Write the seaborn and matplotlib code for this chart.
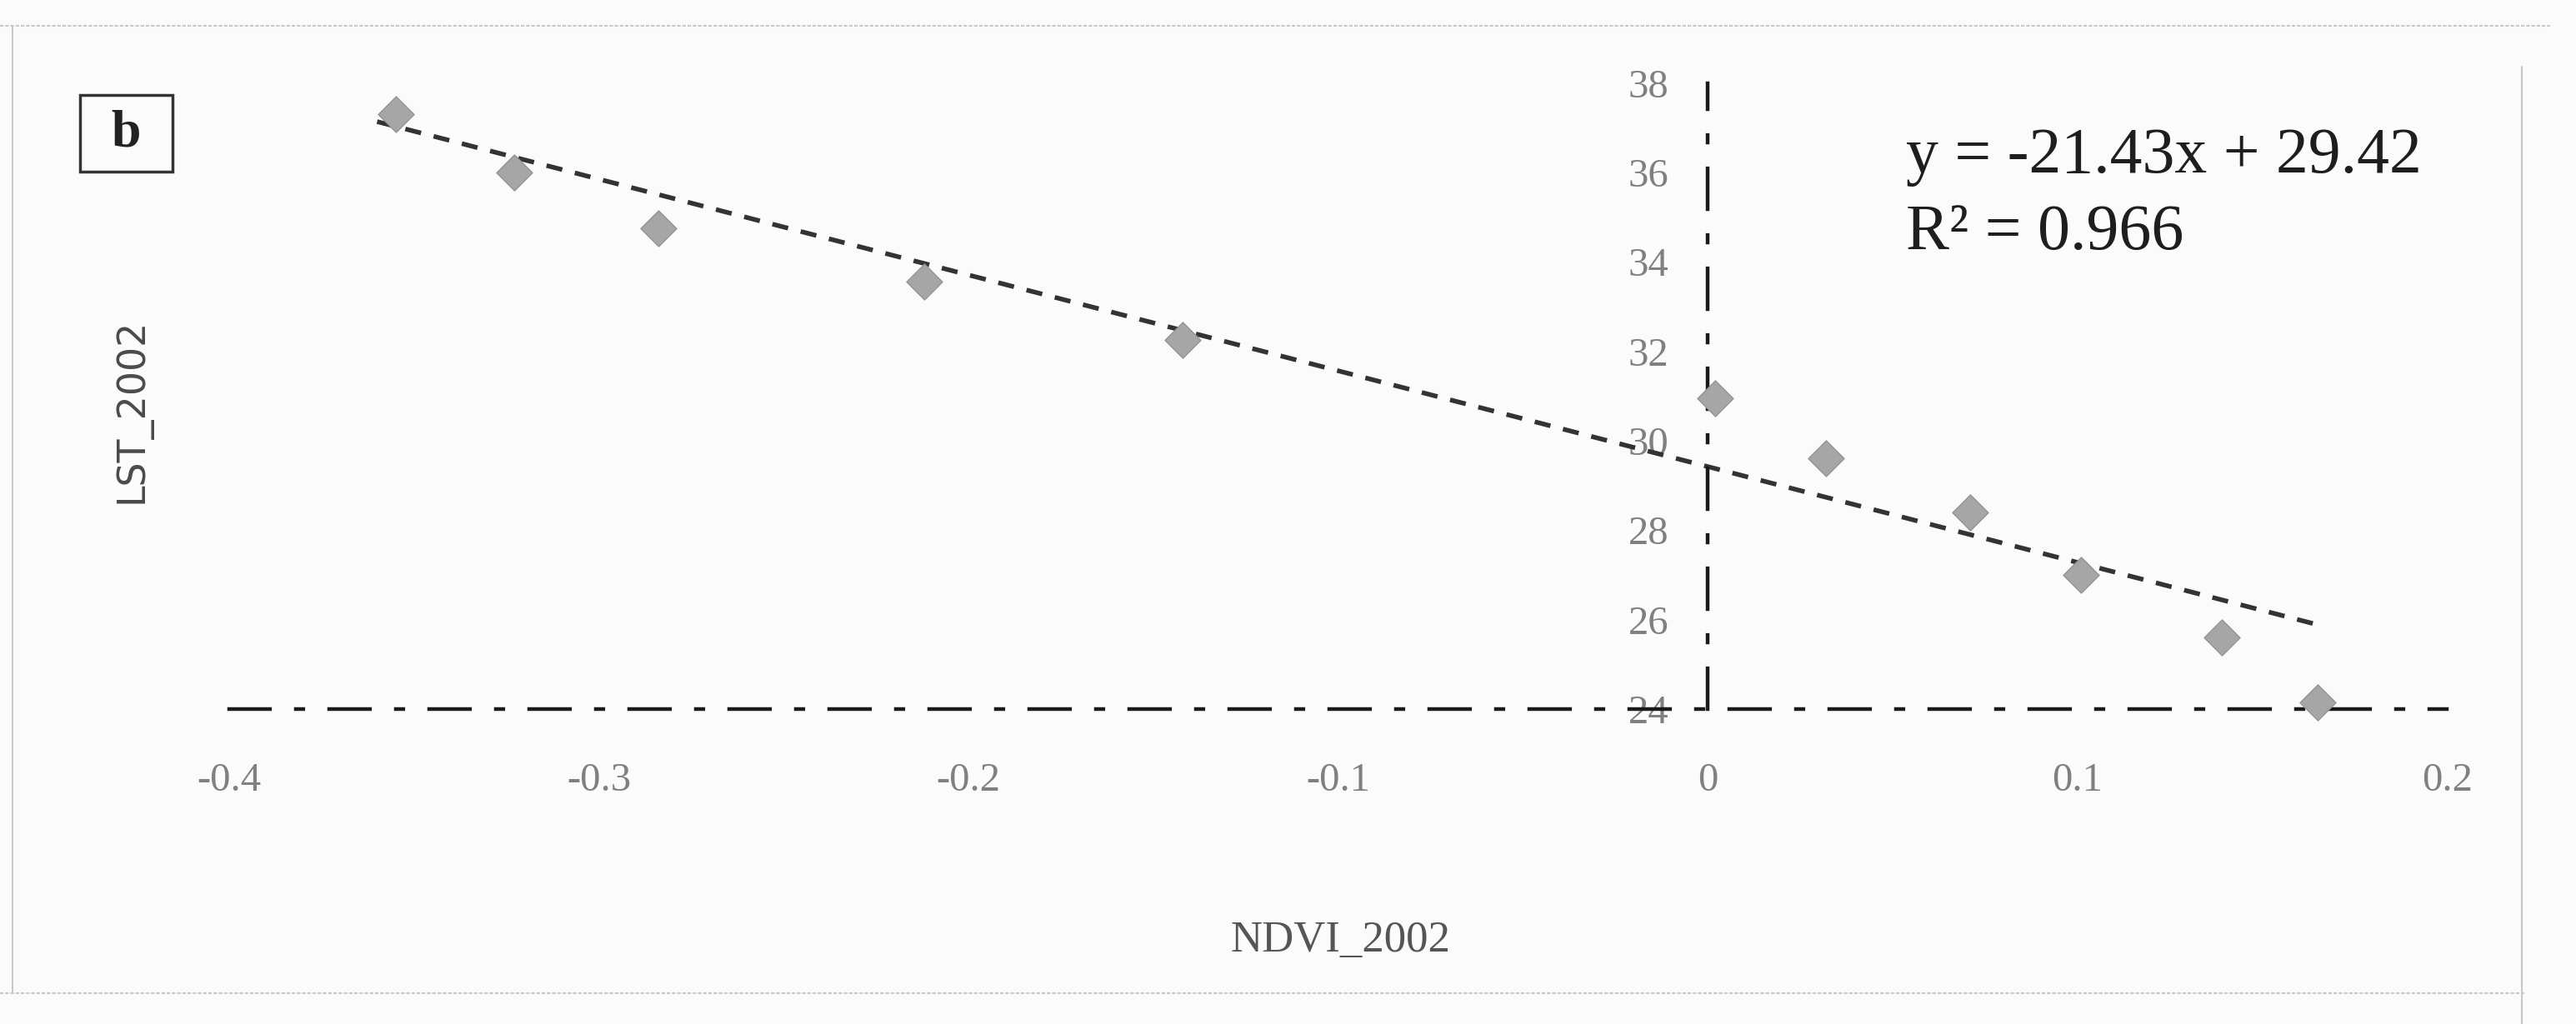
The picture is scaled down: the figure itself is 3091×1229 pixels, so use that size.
import numpy as np
import pandas as pd
import seaborn as sns
import matplotlib.pyplot as plt
from matplotlib.lines import Line2D
from matplotlib.patches import Rectangle

# ------------------------ Data ------------------------
ndvi_2002 = [-0.355, -0.323, -0.284, -0.212, -0.142, 0.002, 0.032, 0.071, 0.101, 0.139, 0.165]
lst_2002 = [37.3, 36.0, 34.75, 33.55, 32.25, 30.95, 29.6, 28.4, 27.0, 25.6, 24.15]

slope = -21.43
intercept = 29.42
r_squared = 0.966
trend_x = [-0.36, 0.165]

x_ticks = [-0.4, -0.3, -0.2, -0.1, 0, 0.1, 0.2]
x_tick_labels = ["-0.4", "-0.3", "-0.2", "-0.1", "0", "0.1", "0.2"]
y_ticks = [24, 26, 28, 30, 32, 34, 36, 38]
# --------------------------------------------------------------------------

sns.set_theme(style="white")
plt.rcParams['font.family'] = ['Liberation Serif', 'DejaVu Serif']

df = pd.DataFrame({"NDVI_2002": ndvi_2002, "LST_2002": lst_2002})
trend = pd.DataFrame({"x": trend_x,
                      "y": [slope * v + intercept for v in trend_x]})

fig = plt.figure(figsize=(30.91, 12.29), dpi=100, facecolor="#fbfbfb")
ax = fig.add_axes([0.089, 0.3076, 0.861, 0.6114])
ax.set_facecolor("none")

sns.lineplot(data=trend, x="x", y="y", ax=ax, color="#333333",
             linewidth=4, linestyle=(0, (3.5, 2.8)))
sns.scatterplot(data=df, x="NDVI_2002", y="LST_2002", ax=ax, marker="D",
                s=480, color="#a6a6a6", edgecolor="#949494", linewidth=1,
                zorder=3, clip_on=False)

ax.set_xlim(-0.4, 0.2)
ax.set_ylim(24, 38)
ax.set_xticks(x_ticks)
ax.set_xticklabels(x_tick_labels)
ax.set_yticks(y_ticks)

# axes drawn as dash-dot lines crossing at (0, 24)
for side in ["top", "right"]:
    ax.spines[side].set_visible(False)
ax.spines["left"].set_position(("data", 0))
for side in ["left", "bottom"]:
    ax.spines[side].set_linestyle((0, (11, 7, 2, 7)))
    ax.spines[side].set_linewidth(3.2)
    ax.spines[side].set_color("#1a1a1a")

ax.tick_params(axis="both", which="major", direction="out", length=10,
               width=3, color="#1a1a1a", labelcolor="#808080", labelsize=35)
ax.tick_params(axis="x", pad=36)
ax.tick_params(axis="y", pad=24)

ax.set_xlabel("NDVI_2002", fontsize=38, color="#555555")
ax.set_ylabel("LST_2002", fontsize=33, color="#4a4a4a", family="DejaVu Sans")
ax.xaxis.set_label_coords(0.501, -0.338)
ax.yaxis.set_label_coords(-0.035, 0.477)

# equation of the fitted line
fig.text(0.740, 0.847, f"y = {slope:.2f}x + {intercept:.2f}", fontsize=56,
         color="#1e1e1e", va="center", ha="left")
fig.text(0.740, 0.772, f"R\u00b2 = {r_squared:.3f}", fontsize=56,
         color="#1e1e1e", va="center", ha="left")

# panel letter
fig.patches.append(Rectangle((0.031, 0.832), 0.036, 0.075, transform=fig.transFigure,
                             fill=False, edgecolor="#333333", linewidth=2.5))
fig.text(0.049, 0.869, "b", fontsize=46, fontweight="bold", color="#222222",
         ha="center", va="center")

# faint page frame of the scan
frame = dict(transform=fig.transFigure, color="#c8c8c8", linewidth=1.5)
fig.lines.append(Line2D([0.0, 0.99], [0.975, 0.975], linestyle=(0, (2, 1)), **frame))
fig.lines.append(Line2D([0.0, 0.98], [0.03, 0.03], linestyle=(0, (2, 1)), **frame))
fig.lines.append(Line2D([0.005, 0.005], [0.03, 0.975], **frame))
fig.lines.append(Line2D([0.979, 0.979], [0.0, 0.935], **frame))

fig.savefig("out.png", dpi=100, facecolor=fig.get_facecolor())
